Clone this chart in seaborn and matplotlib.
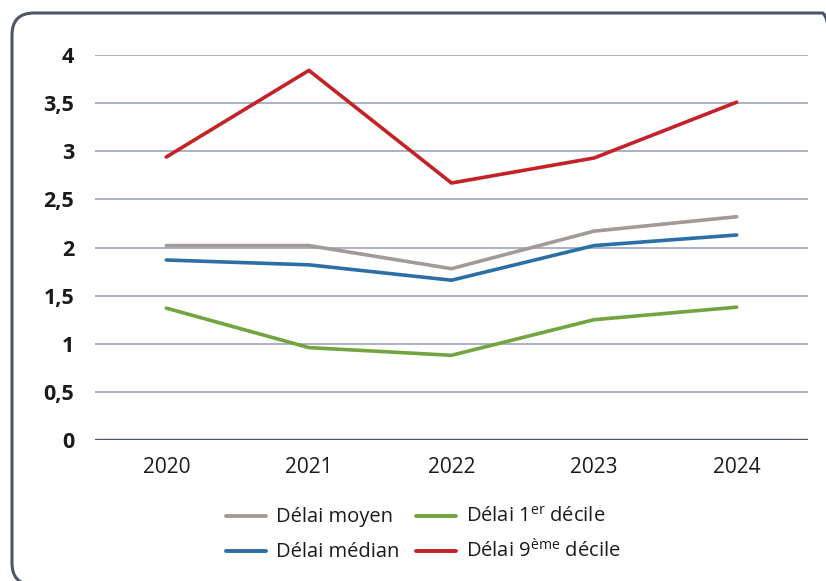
import pandas as pd
import numpy as np
import matplotlib
matplotlib.use("Agg")
import matplotlib.pyplot as plt
from matplotlib.patches import FancyBboxPatch
from matplotlib.lines import Line2D
from matplotlib.transforms import IdentityTransform
import seaborn as sns

years = ["2020", "2021", "2022", "2023", "2024"]
delai_moyen = [2.02, 2.02, 1.78, 2.17, 2.32]
delai_median = [1.87, 1.82, 1.66, 2.02, 2.13]
delai_d1 = [1.37, 0.96, 0.88, 1.25, 1.38]
delai_d9 = [2.94, 3.84, 2.67, 2.93, 3.51]

labels = ["Délai moyen", "Délai médian", "Délai 1$^{er}$ décile", "Délai 9$^{ème}$ décile"]
couleurs = ["#a19a96", "#2b6fa6", "#72a43f", "#c52128"]

df = pd.DataFrame({
    "annee": years * 4,
    "valeur": delai_moyen + delai_median + delai_d1 + delai_d9,
    "serie": [l for l in labels for _ in years],
})

sns.set_style("white")
plt.rcParams["font.family"] = ["Open Sans", "DejaVu Sans"]
plt.rcParams["mathtext.default"] = "regular"

W, H = 826, 581
fig = plt.figure(figsize=(W / 100, H / 100), dpi=100)
ax = fig.add_axes([95 / W, 1 - 440 / H, (808 - 95) / W, (440 - 55) / H])

# cadre arrondi, en pixels (coin haut droit à peine visible)
x0, x1, y_haut, y_bas = 12, 844, 13, 585
cadre = FancyBboxPatch((x0, H - y_bas), x1 - x0, y_bas - y_haut,
                       boxstyle="round,pad=0,rounding_size=22",
                       transform=IdentityTransform(), fill=False,
                       edgecolor="#4b5669", linewidth=2.2, clip_on=False)
fig.patches.append(cadre)

for v in np.arange(0.5, 4.01, 0.5):
    ax.axhline(v, color="#aab1c4", lw=1.4, zorder=0)
ax.axhline(0, color="#4b5669", lw=2.4, zorder=0)

sns.lineplot(data=df, x="annee", y="valeur", hue="serie", palette=couleurs,
             linewidth=2.6, ax=ax, legend=False, sort=False)

ax.set_xlim(-0.5, 4.5)
ax.set_ylim(0, 4)
ax.set_yticks(np.arange(0, 4.01, 0.5))
ax.set_yticklabels(["0", "0,5", "1", "1,5", "2", "2,5", "3", "3,5", "4"],
                   fontweight="bold", fontsize=15.5, color="#1a1a1a")
ax.tick_params(axis="x", labelsize=15, colors="#1a1a1a", pad=12, length=0)
ax.tick_params(axis="y", pad=15, length=0)
for s in ax.spines.values():
    s.set_visible(False)
ax.set_xlabel("")
ax.set_ylabel("")

# légende (2 colonnes, lignes alignées sur la ligne de base)
pos_leg = [(226, 516), (226, 551), (416, 516), (416, 551)]
for (px, py), lab, c in zip(pos_leg, labels, couleurs):
    fig.add_artist(Line2D([px / W, (px + 40) / W], [1 - py / H, 1 - py / H],
                          color=c, lw=2.8, transform=fig.transFigure))
    fig.text((px + 50) / W, 1 - (py + 6) / H, lab, fontsize=14.5,
             color="#1a1a1a", va="baseline", ha="left")

fig.savefig("out.png", dpi=100)
